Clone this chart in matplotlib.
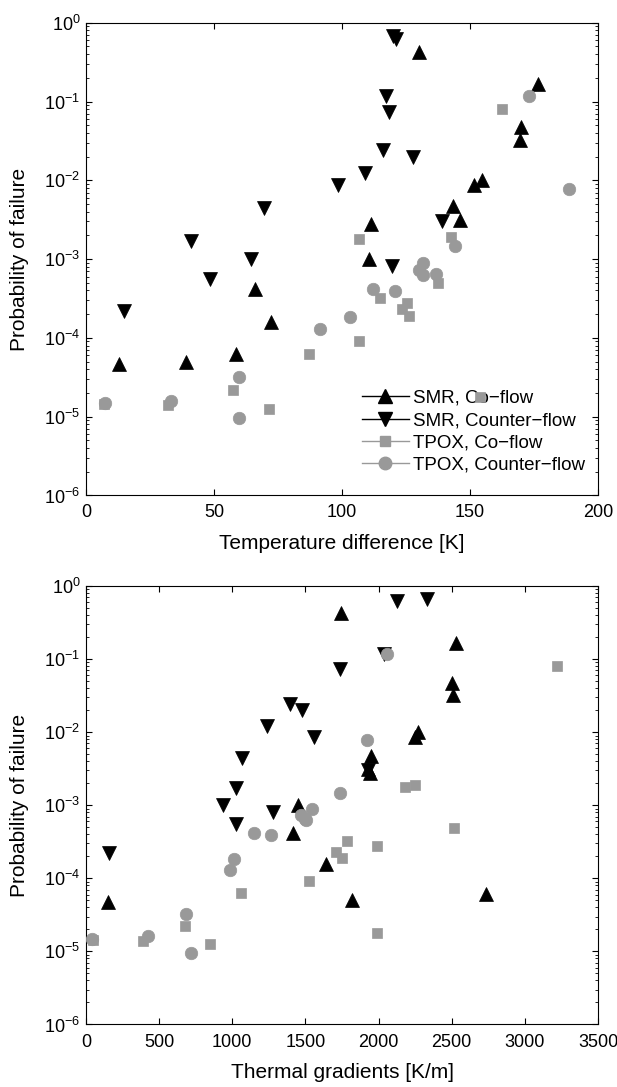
import matplotlib
matplotlib.use('Agg')
import matplotlib.pyplot as plt
from matplotlib.lines import Line2D
from matplotlib.ticker import LogLocator, NullFormatter, NullLocator

plt.rcParams['font.family'] = ['Liberation Sans', 'DejaVu Sans']
plt.rcParams['mathtext.default'] = 'regular'

# SMR, Co-flow
smr_co_prob = [0.43, 0.165, 0.047, 0.032, 0.0102, 0.0087, 0.0047, 0.0031, 0.0028,
               0.001, 4.2e-4, 1.58e-4, 6.2e-5, 5.0e-5, 4.7e-5]
smr_co_dt = [130, 176.4, 169.8, 169.4, 154.5, 151.4, 143.4, 146, 111.3,
             110.5, 66.1, 72.2, 58.7, 39.1, 12.7]
smr_co_grad = [1744, 2531, 2504, 2509, 2268, 2249, 1948, 1927, 1940,
               1452, 1412, 1640, 2732, 1819, 150]

# SMR, Counter-flow
smr_cf_prob = [0.67, 0.62, 0.118, 0.073, 0.024, 0.020, 0.0123, 0.0087, 0.0045,
               0.003, 0.0017, 0.001, 8.1e-4, 5.6e-4, 2.2e-4]
smr_cf_dt = [120.1, 120.9, 117, 118.2, 116.2, 127.7, 109, 98.3, 69.4,
             138.9, 41.1, 64.6, 119.6, 48.5, 14.7]
smr_cf_grad = [2330, 2123, 2034, 1739, 1396, 1479, 1237, 1559, 1068,
               1930, 1023, 934, 1275, 1023, 156]

# TPOX, Co-flow
tpox_co_prob = [0.081, 0.0018, 0.0019, 4.9e-4, 3.2e-4, 2.8e-4, 2.3e-4, 1.9e-4,
                9.2e-5, 6.3e-5, 2.2e-5, 1.25e-5, 1.8e-5, 1.4e-5, 1.45e-5]
tpox_co_dt = [162.6, 106.7, 142.7, 137.6, 114.7, 125.4, 123.4, 126.2,
              106.7, 87.1, 57.5, 71.3, 154, 31.9, 7.1]
tpox_co_grad = [3223, 2182, 2249, 2518, 1787, 1986, 1712, 1747,
                1525, 1060, 674, 848, 1986, 392, 48]

# TPOX, Counter-flow
tpox_cf_prob = [0.117, 0.0078, 0.00145, 8.9e-4, 7.3e-4, 6.3e-4, 6.5e-4, 4.2e-4,
                3.9e-4, 1.85e-4, 1.3e-4, 3.2e-5, 9.6e-6, 1.6e-5, 1.5e-5]
tpox_cf_dt = [173.2, 188.7, 144.2, 131.6, 130, 131.6, 136.7, 112,
              120.8, 103.2, 91.4, 59.8, 59.8, 33.1, 7.4]
tpox_cf_grad = [2061, 1921, 1739, 1546, 1471, 1503, 1497, 1149,
                1264, 1015, 982, 685, 720, 425, 43]

labels = ['SMR, Co\u2212flow', 'SMR, Counter\u2212flow',
          'TPOX, Co\u2212flow', 'TPOX, Counter\u2212flow']
gray = '0.6'
styles = [dict(marker='^', color='black', ms=10),
          dict(marker='v', color='black', ms=10),
          dict(marker='s', color=gray, ms=7.5),
          dict(marker='o', color=gray, ms=9)]


def style_axes(ax, xmax, xstep, xlabel):
    ax.set_yscale('log')
    ax.set_ylim(1e-6, 1)
    ax.set_xlim(0, xmax)
    ax.set_xticks(range(0, xmax + 1, xstep))
    ax.set_yticks([10.0 ** k for k in range(-6, 1)])
    ax.yaxis.set_minor_locator(LogLocator(base=10, subs=range(2, 10)))
    ax.yaxis.set_minor_formatter(NullFormatter())
    ax.xaxis.set_minor_locator(NullLocator())
    ax.tick_params(which='both', direction='in', top=True, right=True, labelsize=13)
    ax.tick_params(which='major', length=4, width=0.8)
    ax.tick_params(which='minor', length=2, width=0.6)
    ax.tick_params(axis='x', pad=6.5)
    ax.tick_params(axis='y', pad=4)
    ax.set_xlabel(xlabel, fontsize=15, labelpad=9)
    ax.set_ylabel('Probability of failure', fontsize=15, labelpad=11)
    for s in ax.spines.values():
        s.set_linewidth(0.8)


fig = plt.figure(figsize=(6.17, 10.87), dpi=100)
ax1 = fig.add_axes([0.1394, 0.5442, 0.8298, 0.4349])
ax2 = fig.add_axes([0.1394, 0.0575, 0.8298, 0.4034])

probs = [smr_co_prob, smr_cf_prob, tpox_co_prob, tpox_cf_prob]
dts = [smr_co_dt, smr_cf_dt, tpox_co_dt, tpox_cf_dt]
grads = [smr_co_grad, smr_cf_grad, tpox_co_grad, tpox_cf_grad]

for p, x, st in zip(probs, dts, styles):
    ax1.plot(x, p, linestyle='none', marker=st['marker'], ms=st['ms'],
             color=st['color'], mec=st['color'], mew=0.5, zorder=3)
for p, x, st in zip(probs, grads, styles):
    ax2.plot(x, p, linestyle='none', marker=st['marker'], ms=st['ms'],
             color=st['color'], mec=st['color'], mew=0.5, zorder=3)

style_axes(ax1, 200, 50, 'Temperature difference [K]')
style_axes(ax2, 3500, 500, 'Thermal gradients [K/m]')

handles = [Line2D([], [], color=st['color'], lw=1, marker=st['marker'],
                  ms=st['ms'], mec=st['color']) for st in styles]
leg = ax1.legend(handles, labels, loc='center left', bbox_to_anchor=(0.539, 0.1345),
                 frameon=False, fontsize=13.5, handlelength=2.5, handletextpad=0.2,
                 labelspacing=0.28, borderpad=0, borderaxespad=0)
leg.set_zorder(1)

fig.savefig('out.png', dpi=100)
